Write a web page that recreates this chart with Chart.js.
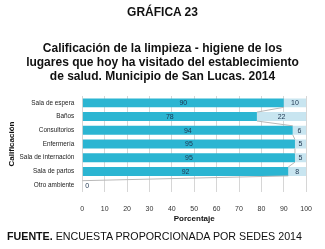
<!DOCTYPE html>
<html>
<head>
<meta charset="utf-8">
<script src="https://cdn.jsdelivr.net/npm/chart.js"></script>
<style>
  body { margin: 0; background: #fff; font-family: 'Liberation Sans', Arial, sans-serif; }
  #wrap { position: relative; width: 325px; height: 249px; overflow: hidden; }
  canvas { position: absolute; left: 0; top: 0; }
  .head { position: absolute; left: 0; width: 325px; text-align: center; font-weight: bold; color: #111; }
  #num { top: 5px; font-size: 12px; }
  #title { top: 41px; font-size: 12px; line-height: 14px; }
  #foot { position: absolute; left: 7px; top: 230px; font-size: 10.7px; color: #111; white-space: nowrap; }
</style>
</head>
<body>
<div id="wrap">
  <canvas id="chart" width="325" height="249"></canvas>
  <div class="head" id="num">GRÁFICA 23</div>
  <div class="head" id="title">Calificación de la limpieza - higiene de los<br>lugares que hoy ha visitado del establecimiento<br>de salud. Municipio de San Lucas. 2014</div>
  <div id="foot"><b>FUENTE.</b> ENCUESTA PROPORCIONADA POR SEDES 2014</div>
</div>
<script>
const categories = ['Sala de espera', 'Baños', 'Consultorios', 'Enfermería', 'Sala de internación', 'Sala de partos', 'Otro ambiente'];
const mainValues = [90, 78, 94, 95, 95, 92, 0];
const restValues = [10, 22, 6, 5, 5, 8, 0];
const xTicks = [0, 10, 20, 30, 40, 50, 60, 70, 80, 90, 100];

// grey connector lines between the ends of the dark bars
const connectors = {
  id: 'connectors',
  afterDatasetsDraw(chart) {
    const ctx = chart.ctx;
    const bars = chart.getDatasetMeta(0).data;
    ctx.save();
    ctx.strokeStyle = '#b8b8b8';
    ctx.lineWidth = 1;
    for (let i = 0; i < bars.length - 1; i++) {
      const a = bars[i], b = bars[i + 1];
      ctx.beginPath();
      ctx.moveTo(a.x, a.y + a.height / 2);
      ctx.lineTo(b.x, b.y - b.height / 2);
      ctx.stroke();
    }
    ctx.restore();
  }
};

// value labels inside the bars
const valueLabels = {
  id: 'valueLabels',
  afterDatasetsDraw(chart) {
    const ctx = chart.ctx;
    ctx.save();
    ctx.font = '7px "Liberation Sans", Arial, sans-serif';
    ctx.fillStyle = '#1d3550';
    ctx.textBaseline = 'middle';
    chart.data.datasets.forEach((ds, d) => {
      chart.getDatasetMeta(d).data.forEach((bar, i) => {
        const v = ds.data[i];
        if (v === 0) {
          if (d === 0) {
            ctx.textAlign = 'left';
            ctx.fillText('0', bar.base + 3, bar.y + 1);
          }
          return;
        }
        ctx.textAlign = 'center';
        ctx.fillText(String(v), (bar.x + bar.base) / 2, bar.y + 0.5);
      });
    });
    ctx.restore();
  }
};

new Chart(document.getElementById('chart'), {
  type: 'bar',
  data: {
    labels: categories,
    datasets: [
      { data: mainValues, backgroundColor: '#2bb5d2', barPercentage: 0.65, categoryPercentage: 1 },
      { data: restValues, backgroundColor: '#c8e5f0', barPercentage: 0.65, categoryPercentage: 1 }
    ]
  },
  options: {
    indexAxis: 'y',
    responsive: false,
    animation: false,
    layout: { padding: { top: 96, right: 18, bottom: 25, left: 7 } },
    plugins: { legend: { display: false }, tooltip: { enabled: false } },
    scales: {
      x: {
        stacked: true,
        min: 0,
        max: 100,
        afterBuildTicks(axis) { axis.ticks = xTicks.map(v => ({ value: v })); },
        grid: { color: '#d6d6d6', drawTicks: false },
        border: { display: false },
        ticks: { color: '#333', font: { size: 7, family: 'Liberation Sans' }, padding: 13 },
        title: { display: true, text: 'Porcentaje', color: '#111', font: { size: 8, weight: 'bold', family: 'Liberation Sans' }, padding: { top: -12, bottom: 0 } }
      },
      y: {
        stacked: true,
        grid: { display: false, drawTicks: false },
        border: { display: false },
        ticks: { color: '#222', font: { size: 6.4, family: 'Liberation Sans' }, padding: 8 },
        title: { display: true, text: 'Calificación', color: '#111', font: { size: 8, weight: 'bold', family: 'Liberation Sans' }, padding: { top: 0, bottom: -5 } }
      }
    }
  },
  plugins: [connectors, valueLabels]
});
</script>
</body>
</html>
